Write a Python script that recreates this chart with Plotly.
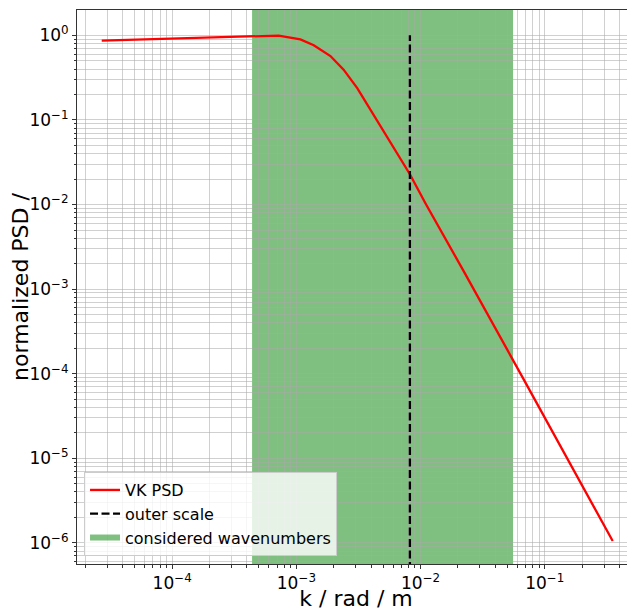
import plotly.graph_objects as go

# ---- data ----
k_psd = [2.71e-5, 3.9e-4, 7.2e-4, 1.077e-3, 1.38e-3, 1.88e-3, 2.40e-3, 3.09e-3,
         3.95e-3, 5.06e-3, 6.49e-3, 8.2e-3, 1.096e-2, 2.233e-2, 6.81e-2, 0.352]
psd = [0.865, 0.965, 0.995, 0.895, 0.765, 0.57, 0.393, 0.238,
       0.132, 0.0731, 0.0405, 0.0228, 0.0103, 1.61e-3, 8.4e-5, 1.05e-6]

k_outer = 8.2e-3
outer_y = [1e-7, 1.0]

k_band = [4.4e-4, 0.0555]

x_tick_exp = [-4, -3, -2, -1]
y_tick_exp = [0, -1, -2, -3, -4, -5, -6]

FONT = "DejaVu Sans"
GRID = "rgba(170,170,170,0.55)"


def minor_vals(lo, hi):
    return [m * 10.0 ** e for e in range(lo, hi) for m in range(2, 10)]


fig = go.Figure()

fig.add_trace(go.Scatter(
    x=k_psd, y=psd, mode="lines", name="VK PSD",
    line=dict(color="#ff0000", width=2.3),
))
fig.add_trace(go.Scatter(
    x=[k_outer, k_outer], y=outer_y, mode="lines", name="outer scale",
    line=dict(color="black", width=2.3, dash="8px,3.5px"),
))
fig.add_trace(go.Scatter(
    x=[None], y=[None], mode="none", name="considered wavenumbers",
    fill="toself", fillcolor="rgba(0,128,0,0.5)",
))

fig.add_vrect(x0=k_band[0], x1=k_band[1], fillcolor="rgba(0,128,0,0.5)",
              line_width=0, layer="below")

# the page body adds an 8px offset, so the figure is 8px smaller on each axis
fig.update_layout(
    width=627, height=603,
    margin=dict(l=69, r=0, t=2, b=47, autoexpand=False),
    paper_bgcolor="white", plot_bgcolor="rgba(0,0,0,0)",
    font=dict(family=FONT, size=16, color="black"),
    showlegend=True,
    legend=dict(
        x=0.0126, y=0.0144, xanchor="left", yanchor="bottom",
        bgcolor="rgba(255,255,255,0.8)", bordercolor="#cccccc", borderwidth=1,
        font=dict(family=FONT, size=16, color="black"),
        tracegroupgap=0,
    ),
)

fig.update_xaxes(
    type="log", range=[-4.766, -0.274], automargin=False,
    tickvals=[10.0 ** e for e in x_tick_exp],
    ticktext=["10<sup>\u2212%d</sup>" % (-e) for e in x_tick_exp],
    tickfont=dict(family=FONT, size=17),
    ticks="outside", ticklen=3.5, tickcolor="#333", tickwidth=1,
    showgrid=True, gridcolor=GRID, gridwidth=1,
    minor=dict(tickvals=minor_vals(-5, 0), ticks="outside", ticklen=2.5,
               tickcolor="#333", showgrid=True, gridcolor=GRID, gridwidth=1),
    showline=True, linecolor="#333", linewidth=1, mirror=True,
    zeroline=False,
    title=dict(text="k / rad / m", font=dict(family=FONT, size=22), standoff=2),
)

fig.update_yaxes(
    type="log", range=[-6.25, 0.30], automargin=False,
    tickvals=[10.0 ** e for e in y_tick_exp],
    ticktext=["10<sup>0</sup>" if e == 0 else "10<sup>\u2212%d</sup>" % (-e) for e in y_tick_exp],
    tickfont=dict(family=FONT, size=17),
    ticks="outside", ticklen=4, tickcolor="#333", tickwidth=1,
    showgrid=True, gridcolor=GRID, gridwidth=1,
    minor=dict(tickvals=minor_vals(-7, 1), ticks="outside", ticklen=2.5,
               tickcolor="#333", showgrid=True, gridcolor=GRID, gridwidth=1),
    showline=True, linecolor="#333", linewidth=1, mirror=False,
    zeroline=False,
    title=dict(text="normalized PSD /", font=dict(family=FONT, size=22), standoff=4),
)

fig.write_html("out.html")
